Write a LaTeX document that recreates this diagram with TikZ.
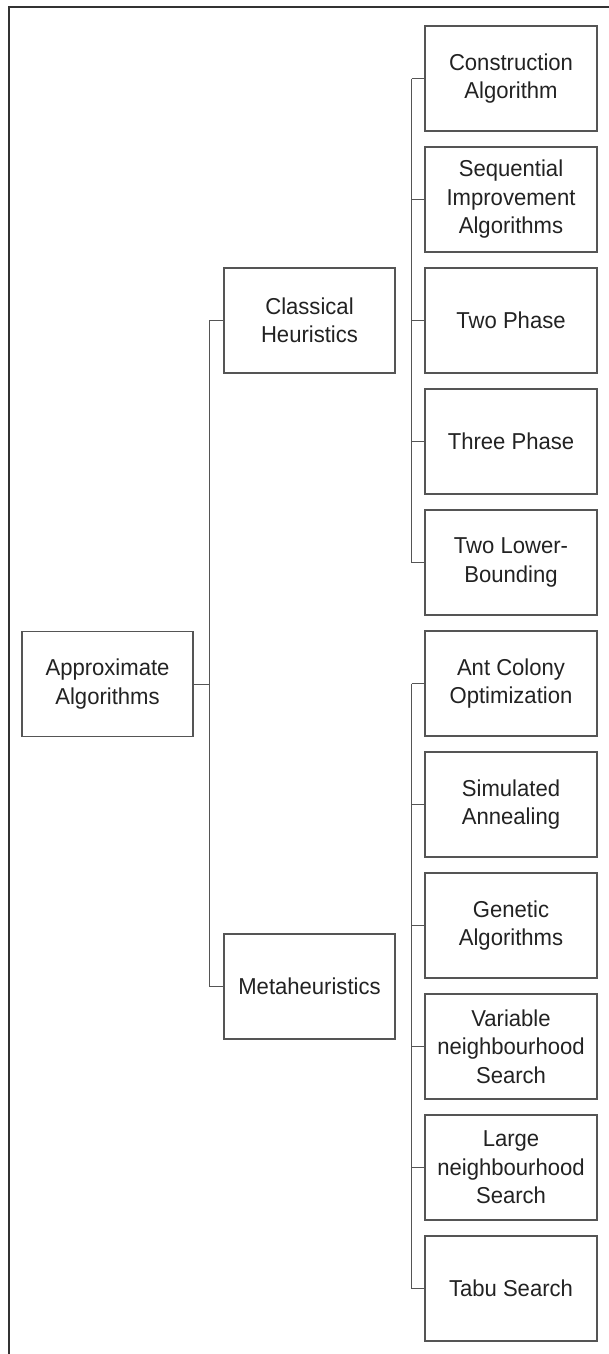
\documentclass[tikz,border=0pt]{standalone}
\usepackage{fontspec}
\setmainfont{Liberation Sans}[FakeStretch=0.96]
\definecolor{boxline}{HTML}{555555}
\definecolor{txt}{HTML}{222222}
\definecolor{frameline}{HTML}{333333}
\begin{document}
\begin{tikzpicture}[x=1pt,y=-1pt,
  box/.style={draw=boxline, line width=1.2pt, minimum width=172pt, minimum height=105pt,
    align=center, inner sep=0pt, text=txt, font=\fontsize{23}{28.5}\selectfont},
  conn/.style={draw=boxline, line width=1pt},
  frame/.style={draw=frameline, line width=2pt}]
\useasboundingbox (0,0) rectangle (608,1354);
\draw[frame] (9,1360) -- (9,7) -- (615,7);
% spines
\coordinate (s0) at (209,0);
\coordinate (s1) at (411.5,0);
% root
\node[box, minimum width=171pt] (app) at (107.5,684) {Approximate\\Algorithms};
% level 1
\node[box, minimum width=171pt] (cla) at (309.5,320.5) {Classical\\Heuristics};
\node[box, minimum width=171pt] (met) at (309.5,986.5) {Metaheuristics};
% level 2, group 1
\node[box] (a1) at (511,78.5) {Construction\\Algorithm};
\node[box] (a2) at (511,199.5) {Sequential\\Improvement\\Algorithms};
\node[box] (a3) at (511,320.5) {Two Phase};
\node[box] (a4) at (511,441.5) {Three Phase};
\node[box] (a5) at (511,562.5) {Two Lower-\\Bounding};
% level 2, group 2
\node[box] (b1) at (511,683.5) {Ant Colony\\Optimization};
\node[box] (b2) at (511,804.5) {Simulated\\Annealing};
\node[box] (b3) at (511,925.5) {Genetic\\Algorithms};
\node[box] (b4) at (511,1046.5) {Variable\\neighbourhood\\Search};
\node[box] (b5) at (511,1167.5) {Large\\neighbourhood\\Search};
\node[box] (b6) at (511,1288.5) {Tabu Search};
% connectors
\draw[conn] (app.east) -- (app.east -| s0);
\draw[conn] (cla.west -| s0) -- (met.west -| s0);
\draw[conn] (cla.west -| s0) -- (cla.west);
\draw[conn] (met.west -| s0) -- (met.west);
\draw[conn] (a1.west -| s1) -- (a5.west -| s1);
\foreach \n in {a1,a2,a3,a4,a5} \draw[conn] (\n.west -| s1) -- (\n.west);
\draw[conn] (b1.west -| s1) -- (b6.west -| s1);
\foreach \n in {b1,b2,b3,b4,b5,b6} \draw[conn] (\n.west -| s1) -- (\n.west);
\end{tikzpicture}
\end{document}
